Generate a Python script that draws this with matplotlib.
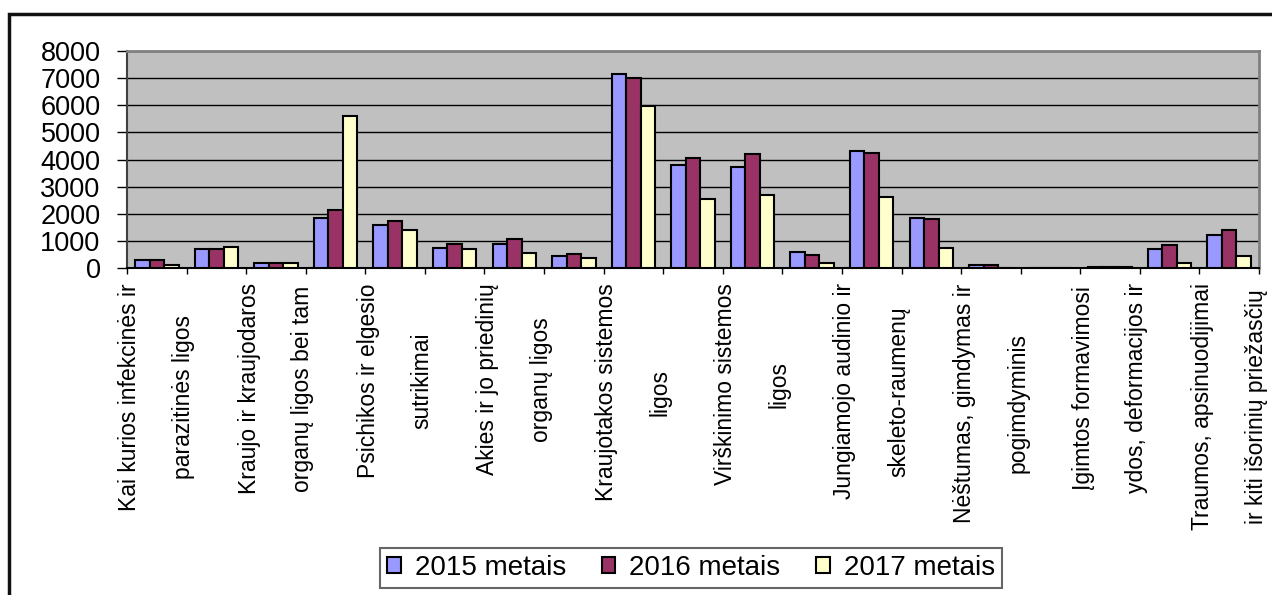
import matplotlib
matplotlib.use("Agg")
import matplotlib.pyplot as plt
import numpy as np
from matplotlib.patches import Rectangle

plt.rcParams['font.family'] = ['Liberation Sans', 'DejaVu Sans']

# Categories (only every other label is visible in the original chart)
labels = [
    "Kai kurios infekcinės ir\nparazitinės ligos", "",
    "Kraujo ir kraujodaros\norganų ligos bei tam", "",
    "Psichikos ir elgesio\nsutrikimai", "",
    "Akies ir jo priedinių\norganų ligos", "",
    "Kraujotakos sistemos\nligos", "",
    "Virškinimo sistemos\nligos", "",
    "Jungiamojo audinio ir\nskeleto-raumenų", "",
    "Nėštumas, gimdymas ir\npogimdyminis", "",
    "Įgimtos formavimosi\nydos, deformacijos ir", "",
    "Traumos, apsinuodijimai\nir kiti išorinių priežasčių",
]

series_names = ["2015 metais", "2016 metais", "2017 metais"]
v2015 = [310, 700, 175, 1860, 1600, 750, 890, 430, 7160, 3790, 3730, 580, 4320, 1860, 110, 0, 40, 700, 1210]
v2016 = [310, 700, 175, 2120, 1720, 890, 1080, 505, 7020, 4060, 4190, 490, 4250, 1800, 110, 0, 40, 830, 1400]
v2017 = [120, 765, 175, 5610, 1400, 700, 570, 380, 5990, 2560, 2700, 175, 2630, 750, 0, 0, 40, 185, 430]

colors = ["#9999FF", "#993366", "#FFFFCC"]

W, H = 1272, 595
fig = plt.figure(figsize=(W / 100, H / 100), dpi=100)
fig.patch.set_facecolor("white")

ax = fig.add_axes([127 / W, 1 - 268 / H, (1259 - 127) / W, (268 - 51) / H])
ax.set_facecolor("#C0C0C0")

x = np.arange(len(labels))
bw = 0.243
handles = []
for i, (vals, c, name) in enumerate(zip([v2015, v2016, v2017], colors, series_names)):
    b = ax.bar(x + (i - 1) * bw, vals, width=bw, color=c, edgecolor="black",
               linewidth=1.5, label=name, zorder=3)
    handles.append(b)

ax.set_xlim(-0.5, len(labels) - 0.5)
ax.set_ylim(0, 8000)
ax.set_yticks(np.arange(0, 8001, 1000))
ax.yaxis.grid(True, color="black", linewidth=1.0, zorder=1)
ax.set_axisbelow(True)

ax.tick_params(axis="y", direction="out", length=7, width=1, pad=12,
               labelsize=19.5, colors="black")

ax.set_xticks(x)
ax.set_xticklabels(labels, rotation=90, ha="center", va="top",
                   multialignment="center", linespacing=2.7, fontsize=16.5)
ax.tick_params(axis="x", which="major", length=0, pad=11)
ax.set_xticks(np.arange(-0.5, len(labels), 1), minor=True)
ax.tick_params(axis="x", which="minor", direction="out", length=4, width=1, color="black")

for s in ["top", "right"]:
    ax.spines[s].set_color("#808080")
    ax.spines[s].set_linewidth(2)
ax.spines["left"].set_color("#404040")
ax.spines["left"].set_linewidth(1.5)
ax.spines["bottom"].set_color("black")
ax.spines["bottom"].set_linewidth(1.5)

leg = fig.legend(handles=handles, labels=series_names, loc="center",
                 bbox_to_anchor=(691 / W, 1 - 568 / H), ncol=3, fontsize=20,
                 frameon=True, fancybox=False, handlelength=0.48, handleheight=0.48,
                 handletextpad=0.5, columnspacing=1.3, borderpad=0.25,
                 borderaxespad=0)
leg.get_frame().set_edgecolor("#404040")
leg.get_frame().set_linewidth(1.5)

# outer chart frame (cropped at right and bottom)
fig.add_artist(Rectangle((9 / W, -0.2), 2.0, (1 - 14 / H) + 0.2,
                         transform=fig.transFigure, fill=False,
                         edgecolor="#111111", linewidth=2.5))

fig.savefig("out.png", dpi=100, facecolor="white")
